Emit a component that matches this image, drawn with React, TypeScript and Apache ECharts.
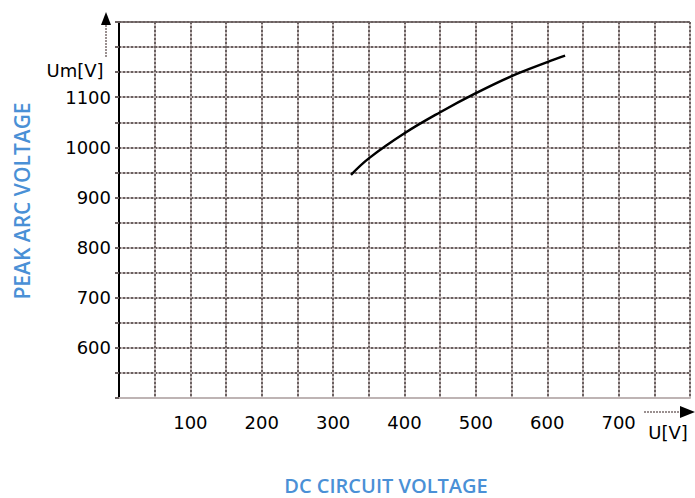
import React, { useEffect, useRef } from "react";
import * as echarts from "echarts";

const curveX = [325, 350, 400, 450, 500, 550, 600, 625];
const curveY = [945, 978, 1028, 1070, 1108, 1142, 1170, 1183];
const xTickLabels = [100, 200, 300, 400, 500, 600, 700];
const yTickLabels = [600, 700, 800, 900, 1000, 1100];
const xTitle = "DC CIRCUIT VOLTAGE";
const yTitle = "PEAK ARC VOLTAGE";
const xUnit = "U[V]";
const yUnit = "Um[V]";

export default function App() {
  const ref = useRef<HTMLDivElement>(null);
  useEffect(() => {
    if (!ref.current) return;
    const chart = echarts.init(ref.current, undefined, { renderer: "svg" });
    const light = "#beb4b4";
    const dark = "#6a6060";
    const blue = "#4a90d6";
    const labelFont = { fontFamily: "DejaVu Sans", fontSize: 18, color: "#000" };
    const baseX = {
      type: "value",
      min: 0,
      max: 800,
      interval: 50,
      axisTick: { show: false },
    };
    const baseY = {
      type: "value",
      min: 500,
      max: 1250,
      interval: 50,
    };
    chart.setOption({
      animation: false,
      backgroundColor: "#ffffff",
      grid: { left: 119, right: 5, top: 22, bottom: 100, containLabel: false },
      xAxis: [
        {
          ...baseX,
          axisLine: { show: true, lineStyle: { color: light, width: 2 } },
          splitLine: { show: true, lineStyle: { color: light, width: 2 } },
          axisLabel: {
            ...labelFont,
            margin: 15,
            formatter: (v: number) => (xTickLabels.includes(v) ? String(v) : ""),
          },
        },
        {
          ...baseX,
          axisLine: { show: true, lineStyle: { color: dark, width: 2, type: [2, 2] } },
          splitLine: { show: true, lineStyle: { color: dark, width: 2, type: [2, 2] } },
          axisLabel: { show: false },
        },
      ],
      yAxis: [
        {
          ...baseY,
          axisLine: { show: true, lineStyle: { color: "#000", width: 2 } },
          axisTick: { show: true, length: 4, lineStyle: { color: dark, width: 2 } },
          splitLine: { show: true, lineStyle: { color: light, width: 2 } },
          axisLabel: {
            ...labelFont,
            margin: 8,
            formatter: (v: number) => (yTickLabels.includes(v) ? String(v) : ""),
          },
        },
        {
          ...baseY,
          axisLine: { show: false },
          axisTick: { show: false },
          splitLine: { show: true, lineStyle: { color: dark, width: 2, type: [2, 2] } },
          axisLabel: { show: false },
        },
      ],
      series: [
        {
          type: "line",
          xAxisIndex: 0,
          yAxisIndex: 0,
          data: curveX.map((x, i) => [x, curveY[i]]),
          smooth: 0.4,
          showSymbol: false,
          lineStyle: { color: "#000", width: 2.5 },
          z: 5,
        },
      ],
      graphic: [
        {
          type: "line",
          shape: { x1: 106, y1: 22, x2: 106, y2: 57 },
          style: { stroke: "#9a9090", lineWidth: 2, lineDash: [2, 1] },
        },
        {
          type: "polygon",
          shape: { points: [[106, 12], [101, 25], [111, 25]] },
          style: { fill: "#000" },
        },
        {
          type: "text",
          x: 75,
          y: 70,
          style: {
            text: yUnit,
            fontFamily: "DejaVu Sans",
            fontSize: 18,
            fill: "#000",
            align: "center",
            verticalAlign: "middle",
          },
        },
        {
          type: "line",
          shape: { x1: 644, y1: 412, x2: 684, y2: 412 },
          style: { stroke: "#9a9090", lineWidth: 2, lineDash: [2, 1] },
        },
        {
          type: "polygon",
          shape: { points: [[695, 412], [680, 406], [680, 418]] },
          style: { fill: "#000" },
        },
        {
          type: "text",
          x: 668,
          y: 432,
          style: {
            text: xUnit,
            fontFamily: "DejaVu Sans",
            fontSize: 18,
            fill: "#000",
            align: "center",
            verticalAlign: "middle",
          },
        },
        {
          type: "text",
          x: 386,
          y: 485,
          style: {
            text: xTitle,
            fontFamily: "Open Sans",
            fontWeight: 600,
            fontSize: 20,
            lineHeight: 20,
            fill: blue,
            align: "center",
            verticalAlign: "middle",
          },
        },
        {
          type: "text",
          x: 22,
          y: 201,
          rotation: Math.PI / 2,
          style: {
            text: yTitle,
            fontFamily: "Open Sans",
            fontWeight: 600,
            fontSize: 21,
            fill: blue,
            align: "center",
            verticalAlign: "middle",
          },
        },
      ],
    });
    return () => chart.dispose();
  }, []);
  return (
    <div
      ref={ref}
      style={{ position: "absolute", left: 0, top: 0, width: 695, height: 498 }}
    />
  );
}
